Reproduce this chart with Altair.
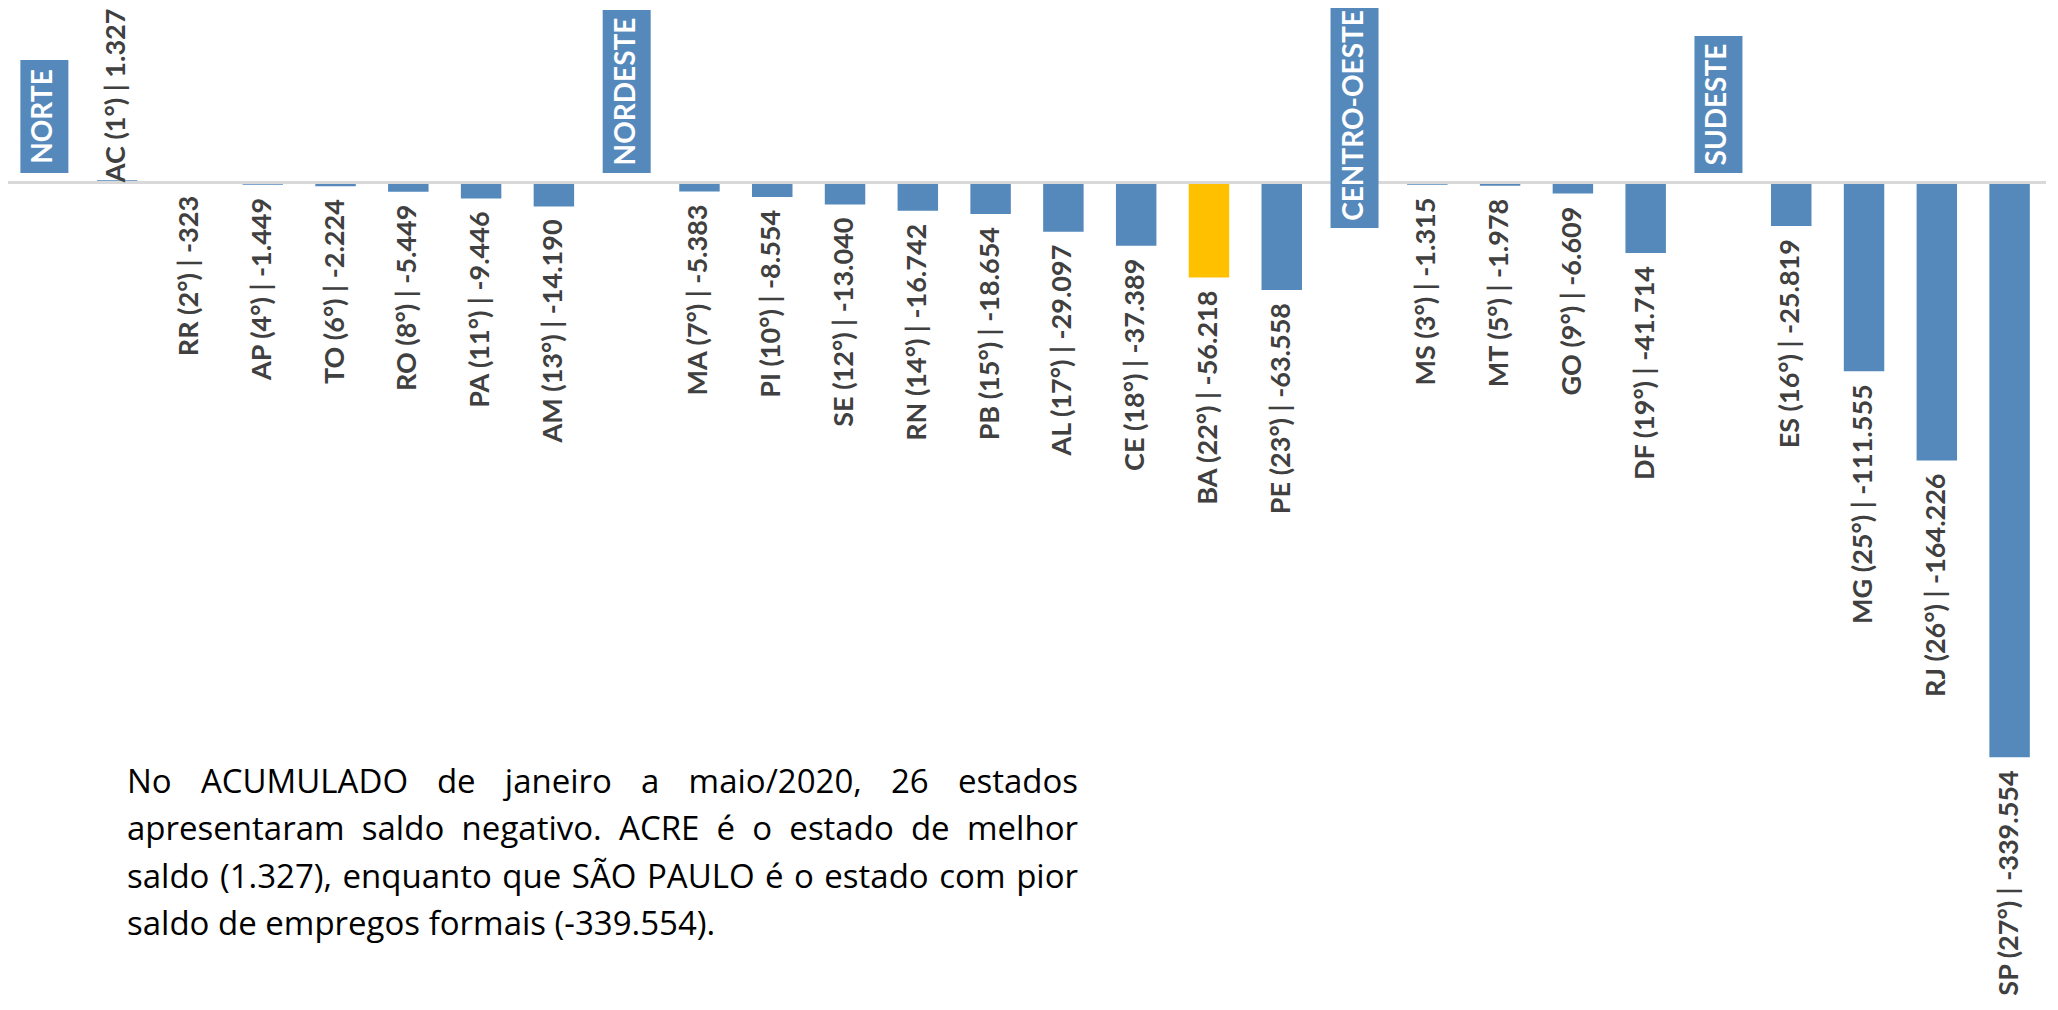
import altair as alt
import pandas as pd

# ---------------- data ----------------
regions = ["NORTE", "NORDESTE", "CENTRO-OESTE", "SUDESTE"]
region_ufs = [
    ["AC", "RR", "AP", "TO", "RO", "PA", "AM"],
    ["MA", "PI", "SE", "RN", "PB", "AL", "CE", "BA", "PE"],
    ["MS", "MT", "GO", "DF"],
    ["ES", "MG", "RJ", "SP"],
]
region_ranks = [
    [1, 2, 4, 6, 8, 11, 13],
    [7, 10, 12, 14, 15, 17, 18, 22, 23],
    [3, 5, 9, 19],
    [16, 25, 26, 27],
]
region_saldos = [
    [1327, -323, -1449, -2224, -5449, -9446, -14190],
    [-5383, -8554, -13040, -16742, -18654, -29097, -37389, -56218, -63558],
    [-1315, -1978, -6609, -41714],
    [-25819, -111555, -164226, -339554],
]
highlight_uf = "BA"

paragraph_lines = [
    "No ACUMULADO de janeiro a maio/2020, 26 estados",
    "apresentaram saldo negativo. ACRE é o estado de melhor",
    "saldo (1.327), enquanto que SÃO PAULO é o estado com pior",
    "saldo de empregos formais (-339.554).",
]

# ---------------- style / layout ----------------
BLUE = "#5589BC"
GOLD = "#FFC000"
LABEL_COLOR = "#404040"
W, H = 2038, 980
PAD_TOP = 10
PX_PER_UNIT = 1.6932 / 1000.0      # pixels per job
BASE_PX = 164.4                    # baseline pixel row inside plot
YMAX = BASE_PX / PX_PER_UNIT
YMIN = -(H - BASE_PX) / PX_PER_UNIT
LABEL_FS = 27
REGION_FS = 28
PARA_FS = 33

def fmt(v):
    s = f"{abs(v):,}".replace(",", ".")
    return ("-" if v < 0 else "") + s

# slot order and tables
slot_order = []
state_rows = []
region_rows = []
LATO_B = {"N": .746, "O": .78, "R": .636, "T": .58, "E": .54, "D": .73,
          "S": .52, "U": .71, "C": .67, "-": .37}
for reg, ufs, rks, vals in zip(regions, region_ufs, region_ranks, region_saldos):
    slot_order.append(reg)
    text_w = sum(LATO_B.get(c, .65) for c in reg) * REGION_FS
    length = text_w + 21
    bottom_px = 9.4
    top_px = bottom_px + length
    if top_px > BASE_PX + 15:
        top_px = BASE_PX + 15
        bottom_px = top_px - length
    region_rows.append({"slot": reg, "region": reg,
                        "top": top_px / PX_PER_UNIT,
                        "bottom": bottom_px / PX_PER_UNIT,
                        "mid": (top_px + bottom_px) / 2 / PX_PER_UNIT})
    for uf, rk, v in zip(ufs, rks, vals):
        slot_order.append(uf)
        state_rows.append({"slot": uf, "value": v,
                           "label": f"{uf} ({rk}°) | {fmt(v)}",
                           "fill": GOLD if uf == highlight_uf else BLUE})

states = pd.DataFrame(state_rows)
regs = pd.DataFrame(region_rows)

xenc = alt.X("slot:N", sort=slot_order,
             scale=alt.Scale(domain=slot_order, paddingInner=0.444, paddingOuter=0.222),
             axis=None)
yscale = alt.Scale(domain=[YMIN, YMAX], nice=False, zero=False)

bars = alt.Chart(states).mark_bar().encode(
    x=xenc,
    y=alt.Y("value:Q", scale=yscale, axis=None),
    y2=alt.datum(0),
    color=alt.Color("fill:N", scale=None),
)

rule = alt.Chart(pd.DataFrame({"v": [0]})).mark_rule(color="#D9D9D9", strokeWidth=3).encode(
    y=alt.Y("v:Q", scale=yscale, axis=None)
)

boxes = alt.Chart(regs).mark_bar(size=48, color=BLUE).encode(
    x=xenc,
    y=alt.Y("top:Q", scale=yscale, axis=None),
    y2="bottom:Q",
)
box_text = alt.Chart(regs).mark_text(
    angle=270, align="center", baseline="middle", font="Lato", fontWeight="bold",
    fontSize=REGION_FS, color="white"
).encode(x=xenc, y=alt.Y("mid:Q", scale=yscale, axis=None), text="region:N")

lab_neg = alt.Chart(states[states["value"] < 0]).mark_text(
    angle=270, align="right", baseline="middle", yOffset=13, font="Lato",
    fontWeight="bold", fontSize=LABEL_FS, color=LABEL_COLOR
).encode(x=xenc, y=alt.Y("value:Q", scale=yscale, axis=None), text="label:N")

lab_pos = alt.Chart(states[states["value"] >= 0]).mark_text(
    angle=270, align="left", baseline="middle", yOffset=2, font="Lato",
    fontWeight="bold", fontSize=LABEL_FS, color=LABEL_COLOR
).encode(x=xenc, y=alt.Y("value:Q", scale=yscale, axis=None), text="label:N")

main = alt.layer(bars, rule, boxes, box_text, lab_neg, lab_pos)

# ---------------- justified paragraph ----------------
OS = {"a": .556, "b": .613, "c": .480, "d": .613, "e": .561, "f": .339, "g": .548,
      "h": .614, "i": .253, "j": .253, "k": .525, "l": .253, "m": .930, "n": .614,
      "o": .604, "p": .613, "q": .613, "r": .408, "s": .477, "t": .353, "u": .614,
      "v": .501, "w": .778, "x": .524, "y": .501, "z": .468,
      "A": .633, "C": .631, "D": .722, "E": .556, "L": .519, "M": .884, "N": .761,
      "O": .779, "P": .603, "R": .617, "S": .549, "U": .730, "Ã": .633,
      "(": .296, ")": .296, ",": .249, ".": .266, "/": .371, "-": .322, "é": .561}
for d in "0123456789":
    OS[d] = .572

def tw(s):
    return sum(OS.get(c, .56) for c in s) * PARA_FS

PL, PR = 119, 1070
base0, lead = 775, 47.3
rows = []
for i, line in enumerate(paragraph_lines):
    yb = base0 + i * lead
    words = line.split(" ")
    if i == len(paragraph_lines) - 1:
        rows.append({"px": PL, "py": yb, "t": line, "al": "left"})
        continue
    ws = [tw(w) for w in words]
    gap = (PR - PL - sum(ws)) / (len(words) - 1)
    cur = PL
    for j, (w, wd) in enumerate(zip(words, ws)):
        if j == 0:
            rows.append({"px": PL, "py": yb, "t": w, "al": "left"})
        elif j == len(words) - 1:
            rows.append({"px": PR, "py": yb, "t": w, "al": "right"})
        else:
            rows.append({"px": cur + wd / 2, "py": yb, "t": w, "al": "center"})
        cur += wd + gap
para_df = pd.DataFrame(rows)

def para_layer(al):
    return alt.Chart(para_df[para_df["al"] == al]).mark_text(
        align=al, baseline="alphabetic", font="Open Sans", fontSize=PARA_FS, color="#000000"
    ).encode(
        x=alt.X("px:Q", scale=None, axis=None),
        y=alt.Y("py:Q", scale=None, axis=None),
        text="t:N",
    )

para = alt.layer(para_layer("left"), para_layer("center"), para_layer("right"))

chart = alt.layer(main, para).resolve_scale(
    x="independent", y="independent"
).properties(
    width=W, height=H,
    padding={"left": 0, "top": PAD_TOP, "right": 0, "bottom": 12},
    autosize=alt.AutoSizeParams(type="none"),
).configure_view(stroke=None)

chart.save("out.html", embed_options={"renderer": "svg", "actions": False})
